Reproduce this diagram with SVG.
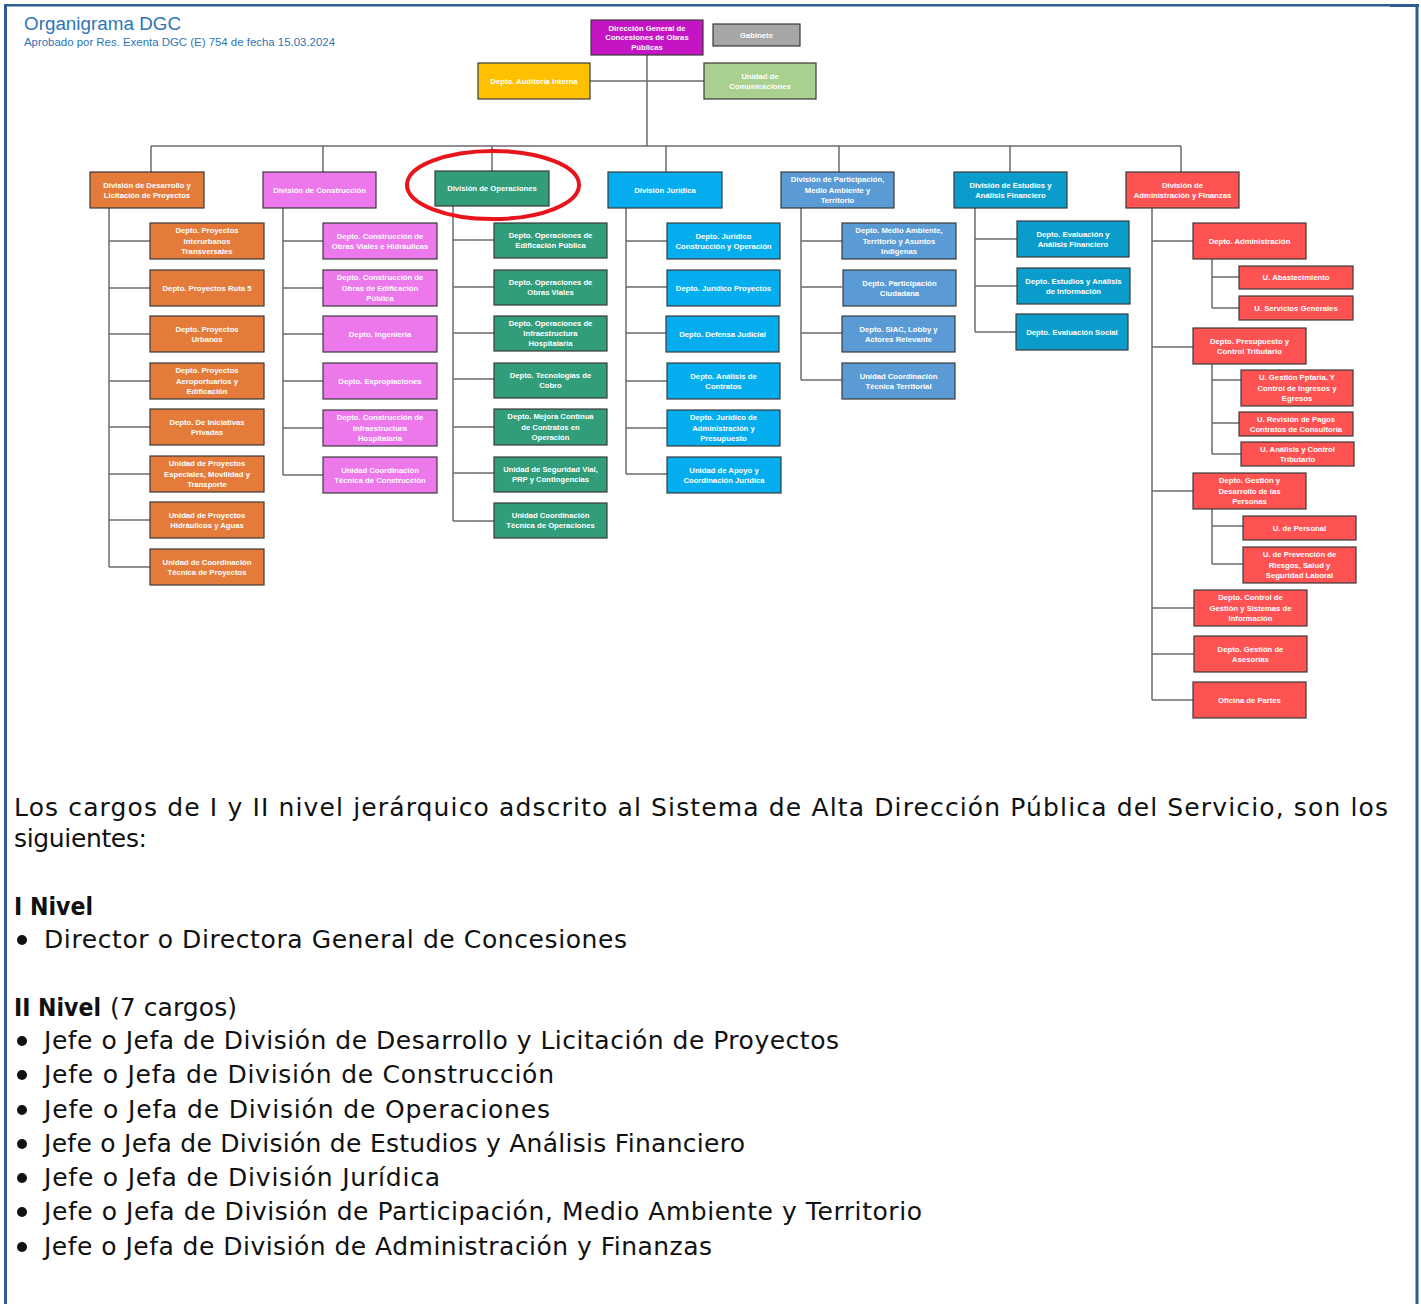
<svg xmlns="http://www.w3.org/2000/svg" width="1421" height="1304" viewBox="0 0 1421 1304">
<style>
.b{stroke:#3a3a3a;stroke-width:1.2}
.t{font-family:"Liberation Sans",Arial,sans-serif;font-size:7.7px;font-weight:bold;fill:#fff;text-anchor:middle}
.or{fill:#E57B3B}.vi{fill:#EC78EC}.gr{fill:#319D7B}.cy{fill:#04AEEE}.sb{fill:#5B9BD5}.te{fill:#0A9DCB}.rd{fill:#FF5252}
.mg{fill:#C414C4}.gy{fill:#A6A6A6}.ye{fill:#FFC000}.lg{fill:#A9D08E}
#connectors path{stroke:#6b6b6b;stroke-width:1.5;fill:none}
.p{font-family:"DejaVu Sans",sans-serif;font-size:25px;fill:#111}
.pb{font-weight:bold}
.frame{fill:#2F5C94}
</style>
<rect width="1421" height="1304" fill="#fff"/>
<g id="frame">
<rect class="frame" x="4" y="4" width="3" height="1300"/>
<rect class="frame" x="4" y="4" width="1387" height="2.5"/>
<rect class="frame" x="1390" y="4" width="29" height="3"/>
<rect class="frame" x="1415.5" y="4" width="3" height="1300"/>
</g>
<g id="title">
<text x="24" y="30" font-family="Liberation Sans,Arial,sans-serif" font-size="18" fill="#2E75B6" textLength="157" lengthAdjust="spacingAndGlyphs">Organigrama DGC</text>
<text x="24" y="46" font-family="Liberation Sans,Arial,sans-serif" font-size="10" fill="#2E75B6" textLength="311" lengthAdjust="spacingAndGlyphs">Aprobado por Res. Exenta DGC (E) 754 de fecha 15.03.2024</text>
</g>
<g id="connectors">
<path d="M647 55V146M590 81H704M151 146H1181"/>
<path d="M151 146V172M323 146V172M492 146V171M666 146V172M839 146V172M1010 146V172M1181 146V172"/>
<path d="M109 208V567M109 241H150M109 288H150M109 334H150M109 381H150M109 427H150M109 474H150M109 520H150M109 567H150"/>
<path d="M283 208V475M283 241H323M283 288H323M283 334H323M283 381H323M283 428H323M283 475H323"/>
<path d="M453 206V521M453 240H494M453 287H494M453 333H494M453 379H494M453 427H494M453 473H494M453 521H494"/>
<path d="M626 208V474M626 241H667M626 287H667M626 333H667M626 381H667M626 428H667M626 474H667"/>
<path d="M801 208V380M801 241H842M801 287H842M801 333H842M801 380H842"/>
<path d="M975 208V332M975 239H1017M975 286H1017M975 332H1017"/>
<path d="M1152 208V700M1152 241H1193M1152 347H1193M1152 491H1193M1152 608H1194M1152 654H1194M1152 700H1193"/>
<path d="M1212 259V308M1212 277H1239M1212 308H1239"/>
<path d="M1212 364V454M1212 380H1241M1212 423H1239M1212 454H1241"/>
<path d="M1212 509V564M1212 526H1243M1212 564H1243"/>
</g>
<g id="n-director"><rect class="b mg" x="591" y="20" width="112" height="35"/><text class="t"><tspan x="647" y="30.5">Dirección General de</tspan><tspan x="647" y="40">Concesiones de Obras</tspan><tspan x="647" y="49.5">Públicas</tspan></text></g>
<g id="n-gabinete"><rect class="b gy" x="713" y="24" width="87" height="22"/><text class="t"><tspan x="756.5" y="37.5">Gabinete</tspan></text></g>
<g id="n-auditoria"><rect class="b ye" x="478" y="63" width="112" height="36"/><text class="t"><tspan x="534" y="83.5">Depto. Auditoría Interna</tspan></text></g>
<g id="n-comunicaciones"><rect class="b lg" x="704" y="63" width="112" height="36"/><text class="t"><tspan x="760" y="78.5">Unidad de</tspan><tspan x="760" y="88.5">Comunicaciones</tspan></text></g>

<g id="n-div-desarrollo"><rect class="b or" x="90" y="172" width="114" height="36"/><text class="t"><tspan x="147" y="187.5">División de Desarrollo y</tspan><tspan x="147" y="197.5">Licitación de Proyectos</tspan></text></g>
<g id="n-div-construccion"><rect class="b vi" x="263" y="172" width="113" height="36"/><text class="t"><tspan x="319.5" y="192.5">División de Construcción</tspan></text></g>
<g id="n-div-operaciones"><rect class="b gr" x="435" y="171" width="114" height="35"/><text class="t"><tspan x="492" y="191">División de Operaciones</tspan></text></g>
<g id="n-div-juridica"><rect class="b cy" x="608" y="172" width="114" height="36"/><text class="t"><tspan x="665" y="192.5">División Jurídica</tspan></text></g>
<g id="n-div-participacion"><rect class="b sb" x="781" y="172" width="113" height="36"/><text class="t"><tspan x="837.5" y="182.2">División  de Participación,</tspan><tspan x="837.5" y="192.5">Medio Ambiente y</tspan><tspan x="837.5" y="202.8">Territorio</tspan></text></g>
<g id="n-div-estudios"><rect class="b te" x="954" y="172" width="113" height="36"/><text class="t"><tspan x="1010.5" y="187.5">División de Estudios y</tspan><tspan x="1010.5" y="197.5">Análisis Financiero</tspan></text></g>
<g id="n-div-administracion"><rect class="b rd" x="1126" y="172" width="113" height="36"/><text class="t"><tspan x="1182.5" y="187.5">División de</tspan><tspan x="1182.5" y="197.5">Administración y Finanzas</tspan></text></g>

<g id="n-d1"><rect class="b or" x="150" y="223" width="114" height="36"/><text class="t"><tspan x="207" y="233.2">Depto. Proyectos</tspan><tspan x="207" y="243.5">Interurbanos</tspan><tspan x="207" y="253.8">Transversales</tspan></text></g>
<g id="n-d2"><rect class="b or" x="150" y="270" width="114" height="36"/><text class="t"><tspan x="207" y="290.5">Depto. Proyectos Ruta 5</tspan></text></g>
<g id="n-d3"><rect class="b or" x="150" y="316" width="114" height="36"/><text class="t"><tspan x="207" y="331.5">Depto. Proyectos</tspan><tspan x="207" y="341.5">Urbanos</tspan></text></g>
<g id="n-d4"><rect class="b or" x="150" y="363" width="114" height="36"/><text class="t"><tspan x="207" y="373.2">Depto. Proyectos</tspan><tspan x="207" y="383.5">Aeroportuarios y</tspan><tspan x="207" y="393.8">Edificación</tspan></text></g>
<g id="n-d5"><rect class="b or" x="150" y="409" width="114" height="36"/><text class="t"><tspan x="207" y="424.5">Depto. De Iniciativas</tspan><tspan x="207" y="434.5">Privadas</tspan></text></g>
<g id="n-d6"><rect class="b or" x="150" y="456" width="114" height="36"/><text class="t"><tspan x="207" y="466.2">Unidad de Proyectos</tspan><tspan x="207" y="476.5">Especiales, Movilidad y</tspan><tspan x="207" y="486.8">Transporte</tspan></text></g>
<g id="n-d7"><rect class="b or" x="150" y="502" width="114" height="36"/><text class="t"><tspan x="207" y="517.5">Unidad de Proyectos</tspan><tspan x="207" y="527.5">Hidráulicos y Aguas</tspan></text></g>
<g id="n-d8"><rect class="b or" x="150" y="549" width="114" height="36"/><text class="t"><tspan x="207" y="564.5">Unidad de Coordinación</tspan><tspan x="207" y="574.5">Técnica de Proyectos</tspan></text></g>

<g id="n-c1"><rect class="b vi" x="323" y="223" width="114" height="36"/><text class="t"><tspan x="380" y="238.5">Depto. Construcción de</tspan><tspan x="380" y="248.5">Obras Viales e Hidráulicas</tspan></text></g>
<g id="n-c2"><rect class="b vi" x="323" y="270" width="114" height="36"/><text class="t"><tspan x="380" y="280.2">Depto. Construcción de</tspan><tspan x="380" y="290.5">Obras de Edificación</tspan><tspan x="380" y="300.8">Pública</tspan></text></g>
<g id="n-c3"><rect class="b vi" x="323" y="316" width="114" height="36"/><text class="t"><tspan x="380" y="336.5">Depto. Ingeniería</tspan></text></g>
<g id="n-c4"><rect class="b vi" x="323" y="363" width="114" height="36"/><text class="t"><tspan x="380" y="383.5">Depto. Expropiaciones</tspan></text></g>
<g id="n-c5"><rect class="b vi" x="323" y="410" width="114" height="36"/><text class="t"><tspan x="380" y="420.2">Depto. Construcción de</tspan><tspan x="380" y="430.5">Infraestructura</tspan><tspan x="380" y="440.8">Hospitalaria</tspan></text></g>
<g id="n-c6"><rect class="b vi" x="323" y="457" width="114" height="36"/><text class="t"><tspan x="380" y="472.5">Unidad Coordinación</tspan><tspan x="380" y="482.5">Técnica de Construcción</tspan></text></g>

<g id="n-o1"><rect class="b gr" x="494" y="223" width="113" height="35"/><text class="t"><tspan x="550.5" y="238">Depto. Operaciones de</tspan><tspan x="550.5" y="248">Edificación Pública</tspan></text></g>
<g id="n-o2"><rect class="b gr" x="494" y="270" width="113" height="35"/><text class="t"><tspan x="550.5" y="285">Depto. Operaciones de</tspan><tspan x="550.5" y="295">Obras Viales</tspan></text></g>
<g id="n-o3"><rect class="b gr" x="494" y="316" width="113" height="35"/><text class="t"><tspan x="550.5" y="325.7">Depto. Operaciones de</tspan><tspan x="550.5" y="336">Infraestructura</tspan><tspan x="550.5" y="346.3">Hospitalaria</tspan></text></g>
<g id="n-o4"><rect class="b gr" x="494" y="363" width="113" height="35"/><text class="t"><tspan x="550.5" y="378">Depto. Tecnologías de</tspan><tspan x="550.5" y="388">Cobro</tspan></text></g>
<g id="n-o5"><rect class="b gr" x="494" y="409" width="113" height="36"/><text class="t"><tspan x="550.5" y="419.2">Depto. Mejora Continua</tspan><tspan x="550.5" y="429.5">de Contratos en</tspan><tspan x="550.5" y="439.8">Operación</tspan></text></g>
<g id="n-o6"><rect class="b gr" x="494" y="457" width="113" height="35"/><text class="t"><tspan x="550.5" y="472">Unidad de Seguridad Vial,</tspan><tspan x="550.5" y="482">PRP y Contingencias</tspan></text></g>
<g id="n-o7"><rect class="b gr" x="494" y="503" width="113" height="35"/><text class="t"><tspan x="550.5" y="518">Unidad Coordinación</tspan><tspan x="550.5" y="528">Técnica de Operaciones</tspan></text></g>

<g id="n-j1"><rect class="b cy" x="667" y="223" width="113" height="36"/><text class="t"><tspan x="723.5" y="238.5">Depto. Jurídico</tspan><tspan x="723.5" y="248.5">Construcción y Operación</tspan></text></g>
<g id="n-j2"><rect class="b cy" x="667" y="270" width="113" height="36"/><text class="t"><tspan x="723.5" y="290.5">Depto. Jurídico Proyectos</tspan></text></g>
<g id="n-j3"><rect class="b cy" x="666" y="316" width="113" height="36"/><text class="t"><tspan x="722.5" y="336.5">Depto. Defensa Judicial</tspan></text></g>
<g id="n-j4"><rect class="b cy" x="667" y="363" width="113" height="36"/><text class="t"><tspan x="723.5" y="378.5">Depto. Análisis de</tspan><tspan x="723.5" y="388.5">Contratos</tspan></text></g>
<g id="n-j5"><rect class="b cy" x="667" y="410" width="113" height="36"/><text class="t"><tspan x="723.5" y="420.2">Depto. Jurídico de</tspan><tspan x="723.5" y="430.5">Administración y</tspan><tspan x="723.5" y="440.8">Presupuesto</tspan></text></g>
<g id="n-j6"><rect class="b cy" x="667" y="457" width="114" height="36"/><text class="t"><tspan x="724" y="472.5">Unidad de Apoyo y</tspan><tspan x="724" y="482.5">Coordinación Jurídica</tspan></text></g>

<g id="n-p1"><rect class="b sb" x="842" y="223" width="114" height="36"/><text class="t"><tspan x="899" y="233.2">Depto. Medio Ambiente,</tspan><tspan x="899" y="243.5">Territorio y Asuntos</tspan><tspan x="899" y="253.8">Indígenas</tspan></text></g>
<g id="n-p2"><rect class="b sb" x="843" y="270" width="113" height="36"/><text class="t"><tspan x="899.5" y="285.5">Depto. Participación</tspan><tspan x="899.5" y="295.5">Ciudadana</tspan></text></g>
<g id="n-p3"><rect class="b sb" x="842" y="316" width="113" height="36"/><text class="t"><tspan x="898.5" y="331.5">Depto. SIAC, Lobby y</tspan><tspan x="898.5" y="341.5">Actores Relevante</tspan></text></g>
<g id="n-p4"><rect class="b sb" x="842" y="363" width="113" height="36"/><text class="t"><tspan x="898.5" y="378.5">Unidad Coordinación</tspan><tspan x="898.5" y="388.5">Técnica Territorial</tspan></text></g>

<g id="n-e1"><rect class="b te" x="1017" y="221" width="112" height="36"/><text class="t"><tspan x="1073" y="236.5">Depto. Evaluación y</tspan><tspan x="1073" y="246.5">Análisis Financiero</tspan></text></g>
<g id="n-e2"><rect class="b te" x="1017" y="268" width="113" height="36"/><text class="t"><tspan x="1073.5" y="283.5">Depto. Estudios y Análisis</tspan><tspan x="1073.5" y="293.5">de Información</tspan></text></g>
<g id="n-e3"><rect class="b te" x="1016" y="314" width="112" height="36"/><text class="t"><tspan x="1072" y="334.5">Depto. Evaluación Social</tspan></text></g>

<g id="n-a1"><rect class="b rd" x="1193" y="223" width="113" height="36"/><text class="t"><tspan x="1249.5" y="243.5">Depto. Administración</tspan></text></g>
<g id="n-a1u1"><rect class="b rd" x="1239" y="266" width="114" height="23"/><text class="t"><tspan x="1296" y="280">U. Abastecimiento</tspan></text></g>
<g id="n-a1u2"><rect class="b rd" x="1239" y="296" width="114" height="24"/><text class="t"><tspan x="1296" y="310.5">U. Servicios Generales</tspan></text></g>
<g id="n-a2"><rect class="b rd" x="1193" y="328" width="113" height="36"/><text class="t"><tspan x="1249.5" y="343.5">Depto. Presupuesto y</tspan><tspan x="1249.5" y="353.5">Control Tributario</tspan></text></g>
<g id="n-a2u1"><rect class="b rd" x="1241" y="370" width="112" height="36"/><text class="t"><tspan x="1297" y="380.2">U. Gestión Pptaria. Y</tspan><tspan x="1297" y="390.5">Control de Ingresos y</tspan><tspan x="1297" y="400.8">Egresos</tspan></text></g>
<g id="n-a2u2"><rect class="b rd" x="1239" y="412" width="114" height="24"/><text class="t"><tspan x="1296" y="421.5">U. Revisión de Pagos</tspan><tspan x="1296" y="431.5">Contratos de Consultoría</tspan></text></g>
<g id="n-a2u3"><rect class="b rd" x="1241" y="442" width="113" height="24"/><text class="t"><tspan x="1297.5" y="451.5">U. Análisis y Control</tspan><tspan x="1297.5" y="461.5">Tributario</tspan></text></g>
<g id="n-a3"><rect class="b rd" x="1193" y="473" width="113" height="36"/><text class="t"><tspan x="1249.5" y="483.2">Depto. Gestión y</tspan><tspan x="1249.5" y="493.5">Desarrollo de las</tspan><tspan x="1249.5" y="503.8">Personas</tspan></text></g>
<g id="n-a3u1"><rect class="b rd" x="1243" y="516" width="113" height="24"/><text class="t"><tspan x="1299.5" y="530.5">U. de Personal</tspan></text></g>
<g id="n-a3u2"><rect class="b rd" x="1243" y="547" width="113" height="36"/><text class="t"><tspan x="1299.5" y="557.2">U. de Prevención de</tspan><tspan x="1299.5" y="567.5">Riesgos, Salud y</tspan><tspan x="1299.5" y="577.8">Seguridad Laboral</tspan></text></g>
<g id="n-a4"><rect class="b rd" x="1194" y="590" width="113" height="36"/><text class="t"><tspan x="1250.5" y="600.2">Depto. Control de</tspan><tspan x="1250.5" y="610.5">Gestión y Sistemas de</tspan><tspan x="1250.5" y="620.8">Información</tspan></text></g>
<g id="n-a5"><rect class="b rd" x="1194" y="636" width="113" height="36"/><text class="t"><tspan x="1250.5" y="651.5">Depto. Gestión de</tspan><tspan x="1250.5" y="661.5">Asesorías</tspan></text></g>
<g id="n-a6"><rect class="b rd" x="1193" y="682" width="113" height="36"/><text class="t"><tspan x="1249.5" y="702.5">Oficina de Partes</tspan></text></g>

<ellipse id="highlight" cx="493" cy="185" rx="86" ry="34" fill="none" stroke="#E8141B" stroke-width="4"/>

<g id="texto">
<text class="p" x="14" y="816" textLength="1374" lengthAdjust="spacing">Los cargos de I y II nivel jerárquico adscrito al Sistema de Alta Dirección Pública del Servicio, son los</text>
<text class="p" x="14" y="847" textLength="133" lengthAdjust="spacing">siguientes:</text>
<text class="p pb" x="14" y="915" textLength="79" lengthAdjust="spacingAndGlyphs">I Nivel</text>
<circle cx="22" cy="940" r="5" fill="#111"/>
<text class="p" x="44" y="948" textLength="583" lengthAdjust="spacing">Director o Directora General de Concesiones</text>
<text class="p" y="1016"><tspan class="pb" x="14" textLength="87" lengthAdjust="spacingAndGlyphs">II Nivel</tspan><tspan x="110" textLength="127" lengthAdjust="spacing">(7 cargos)</tspan></text>
<circle cx="22" cy="1041" r="5" fill="#111"/>
<text class="p" x="44" y="1049" textLength="795" lengthAdjust="spacing">Jefe o Jefa de División de Desarrollo y Licitación de Proyectos</text>
<circle cx="22" cy="1075" r="5" fill="#111"/>
<text class="p" x="44" y="1083" textLength="510" lengthAdjust="spacing">Jefe o Jefa de División de Construcción</text>
<circle cx="22" cy="1110" r="5" fill="#111"/>
<text class="p" x="44" y="1118" textLength="506" lengthAdjust="spacing">Jefe o Jefa de División de Operaciones</text>
<circle cx="22" cy="1144" r="5" fill="#111"/>
<text class="p" x="44" y="1152" textLength="701" lengthAdjust="spacing">Jefe o Jefa de División de Estudios y Análisis Financiero</text>
<circle cx="22" cy="1178" r="5" fill="#111"/>
<text class="p" x="44" y="1186" textLength="396" lengthAdjust="spacing">Jefe o Jefa de División Jurídica</text>
<circle cx="22" cy="1212" r="5" fill="#111"/>
<text class="p" x="44" y="1220" textLength="878" lengthAdjust="spacing">Jefe o Jefa de División de Participación, Medio Ambiente y Territorio</text>
<circle cx="22" cy="1247" r="5" fill="#111"/>
<text class="p" x="44" y="1255" textLength="668" lengthAdjust="spacing">Jefe o Jefa de División de Administración y Finanzas</text>
</g>
</svg>
